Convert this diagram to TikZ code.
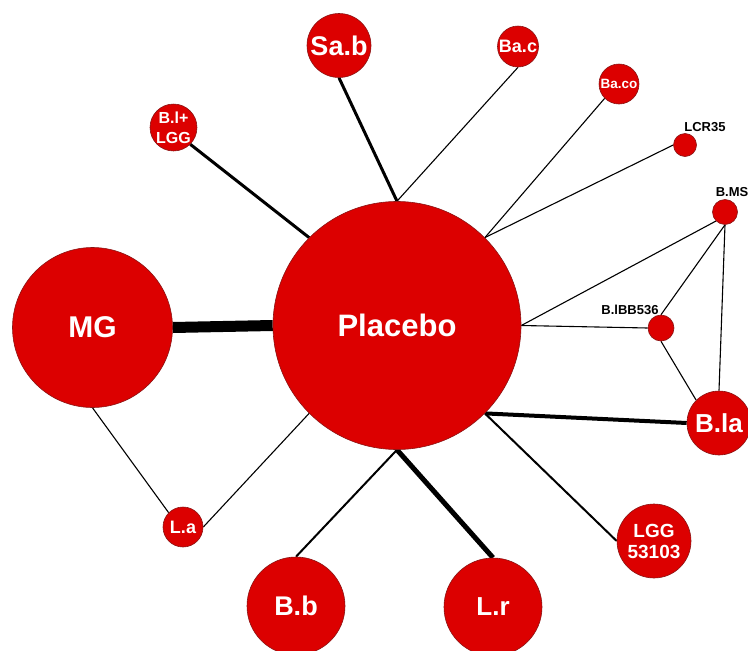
\documentclass[tikz,border=0pt]{standalone}
\usepackage{fontspec}
\setmainfont{Liberation Sans}
\usetikzlibrary{backgrounds}
\definecolor{nodered}{HTML}{DC0000}
\definecolor{rimred}{HTML}{8A1414}
\newcommand\tsz[1]{\fontsize{#1}{1.15\dimexpr#1pt\relax}\selectfont\bfseries}
\begin{document}
\begin{tikzpicture}[x=1pt,y=-1pt,
  trt/.style={circle,fill=nodered,draw=rimred,line width=.6pt,inner sep=0pt,
    text=white,align=center},
  lbl/.style={font=\tsz{13},text=black,inner sep=0pt},
  link/.style={line width=1.1pt}]
\useasboundingbox (0,0) rectangle (748,651);
% treatments
\node[trt,minimum size=248,font=\tsz{31}] (plc) at (397,325.5) {Placebo};
\node[trt,minimum size=160,font=\tsz{30}] (mg) at (92.5,327.5) {MG};
\node[trt,minimum size=64,font=\tsz{27}] (sab) at (339,45.5) {Sa.b};
\node[trt,minimum size=41,font=\tsz{18}] (bac) at (518,46.5) {Ba.c};
\node[trt,minimum size=40,font=\tsz{13.5}] (baco) at (619,84) {Ba.co};
\node[trt,minimum size=45,font=\fontsize{16}{20}\selectfont\bfseries] (bllgg) at (173.5,127.5) {B.l+\\LGG};
\node[trt,minimum size=23] (lcr) at (685,145) {};
\node[trt,minimum size=25] (bms) at (725,212) {};
\node[trt,minimum size=26] (bibb) at (661,328) {};
\node[trt,minimum size=64,font=\tsz{26}] (bla) at (719,423) {B.la};
\node[trt,minimum size=74,font=\fontsize{19}{21}\selectfont\bfseries] (lgg) at (654,541) {LGG\\53103};
\node[trt,minimum size=98,font=\tsz{26}] (lr) at (493,607) {L.r};
\node[trt,minimum size=98,font=\tsz{27}] (bb) at (296,606) {B.b};
\node[trt,minimum size=40,font=\tsz{18}] (la) at (183,527) {L.a};
% small ones carry their name outside
\node[lbl] (lcrtxt) at (705,127) {LCR35};
\node[lbl] (bmstxt) at (732,192) {B.MS};
\node[lbl] (bibbtxt) at (630,310) {B.lBB536};
% comparisons
\begin{scope}[on background layer]
\draw[line width=11pt] (mg.east) -- (plc.west);
\draw[line width=3pt] (plc.north west) -- (bllgg.south east);
\draw[line width=3pt] (plc.north) -- (sab.south);
\draw[link] (plc.north) -- (bac.south);
\draw[link] (plc.north east) -- (baco.south west);
\draw[link] (plc.north east) -- (lcr.west);
\draw[link] (plc.east) -- (bms.south west);
\draw[link] (plc.east) -- (bibb.west);
\draw[link] (bms.south) -- (bibb.north);
\draw[link] (bms.south) -- (bla.north);
\draw[link] (bibb.south) -- (bla.north west);
\draw[line width=4pt] (plc.south east) -- (bla.west);
\draw[line width=2pt] (plc.south east) -- (lgg.west);
\draw[line width=5pt] (plc.south) -- (lr.north);
\draw[line width=2pt] (plc.south) -- (bb.north);
\draw[link] (plc.south west) -- (la.east);
\draw[link] (mg.south) -- (la.north west);
\end{scope}
\end{tikzpicture}
\end{document}
